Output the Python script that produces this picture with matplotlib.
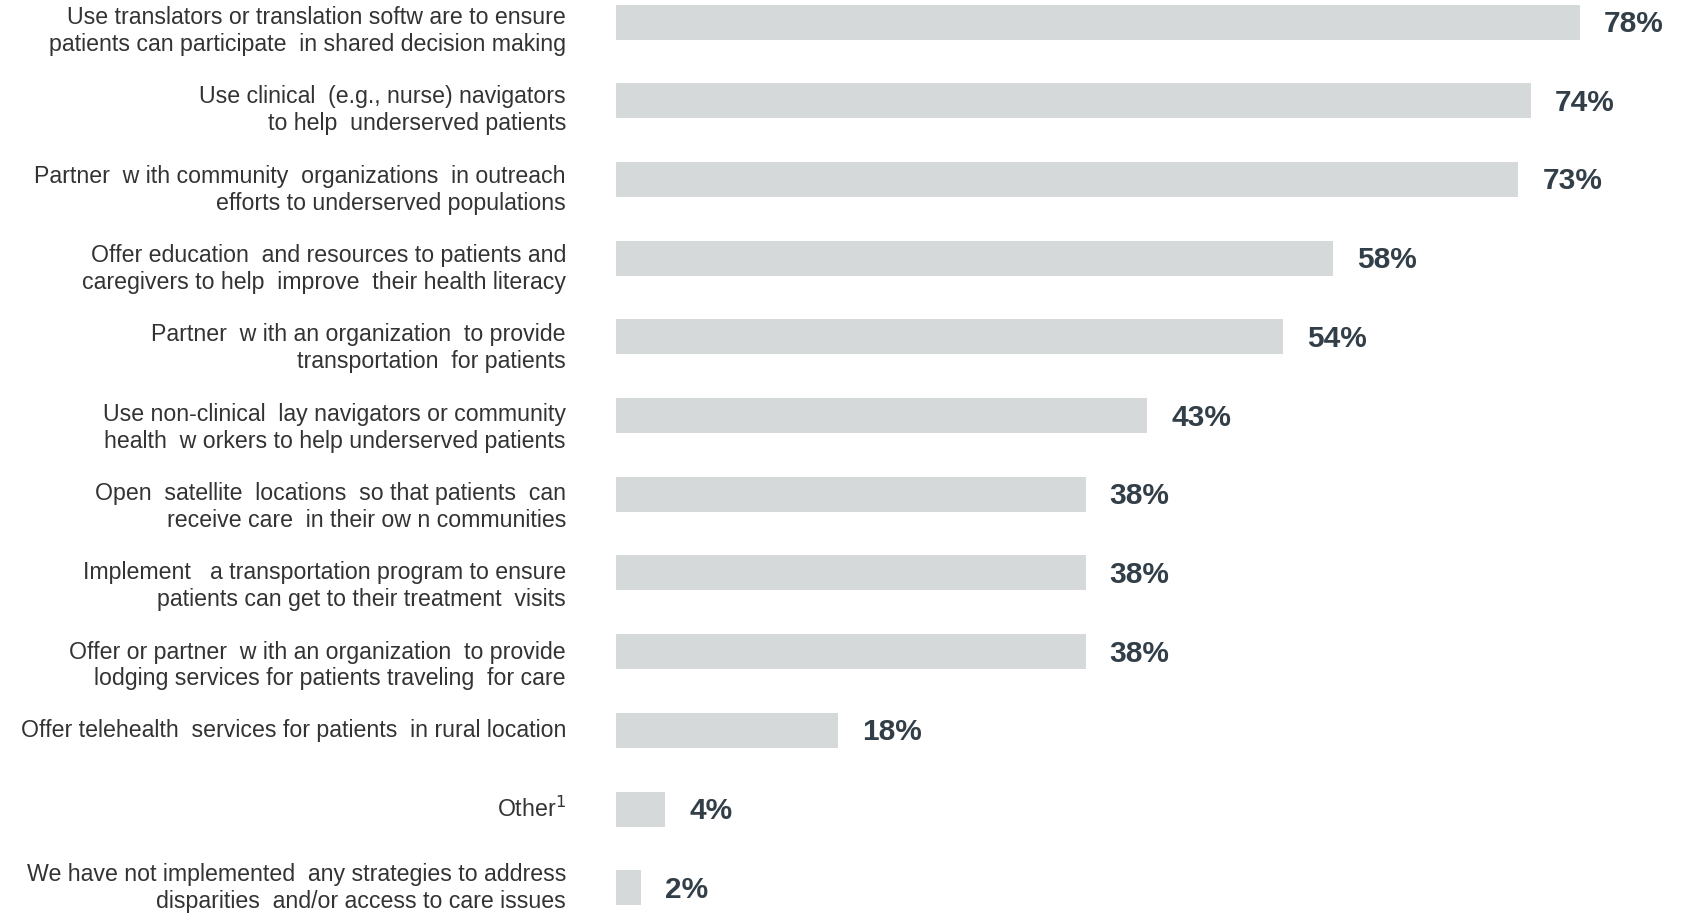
import matplotlib.pyplot as plt

# strategies, top to bottom
labels = [
    'Use translators or translation softw are to ensure\npatients can participate  in shared decision making',
    'Use clinical  (e.g., nurse) navigators\nto help  underserved patients',
    'Partner  w ith community  organizations  in outreach\nefforts to underserved populations',
    'Offer education  and resources to patients and\ncaregivers to help  improve  their health literacy',
    'Partner  w ith an organization  to provide\ntransportation  for patients',
    'Use non-clinical  lay navigators or community\nhealth  w orkers to help underserved patients',
    'Open  satellite  locations  so that patients  can\nreceive care  in their ow n communities',
    'Implement   a transportation program to ensure\npatients can get to their treatment  visits',
    'Offer or partner  w ith an organization  to provide\nlodging services for patients traveling  for care',
    'Offer telehealth  services for patients  in rural location',
    'Other$^{1}$',
    'We have not implemented  any strategies to address\ndisparities  and/or access to care issues',
]
values = [78, 74, 73, 58, 54, 43, 38, 38, 38, 18, 4, 2]

bar_color = '#d5d9d9'
pct_color = '#333f48'
text_color = '#333333'

plt.rcParams['font.family'] = ['Liberation Sans', 'DejaVu Sans']

fig = plt.figure(figsize=(16.9, 9.13), dpi=100)
ax = fig.add_axes([616 / 1690, 0, 1 - 616 / 1690, 1])

ypos = list(range(len(values)))
ax.barh(ypos, values, height=0.445, color=bar_color)
ax.set_xlim(0, 1074 / 12.36)
ax.set_ylim(11.32, -0.28)
ax.axis('off')

n = len(values)
for y, lab, v in zip(ypos, labels, values):
    # two-line labels sit a little below the bar centre, drifting down the list
    dy = -(9 + 0.6 * y) if ('\n' in lab and y < n - 1) else 0
    ax.annotate(lab, xy=(0, y), xytext=(-50, dy), textcoords='offset pixels',
                ha='right', va='center', fontsize=16.7, color=text_color,
                linespacing=1.22, multialignment='right')
    ax.annotate(f'{v}%', xy=(v, y), xytext=(24, -2), textcoords='offset pixels',
                ha='left', va='center', fontsize=21.5, fontweight='bold',
                color=pct_color)

fig.savefig('out.png', dpi=100)
